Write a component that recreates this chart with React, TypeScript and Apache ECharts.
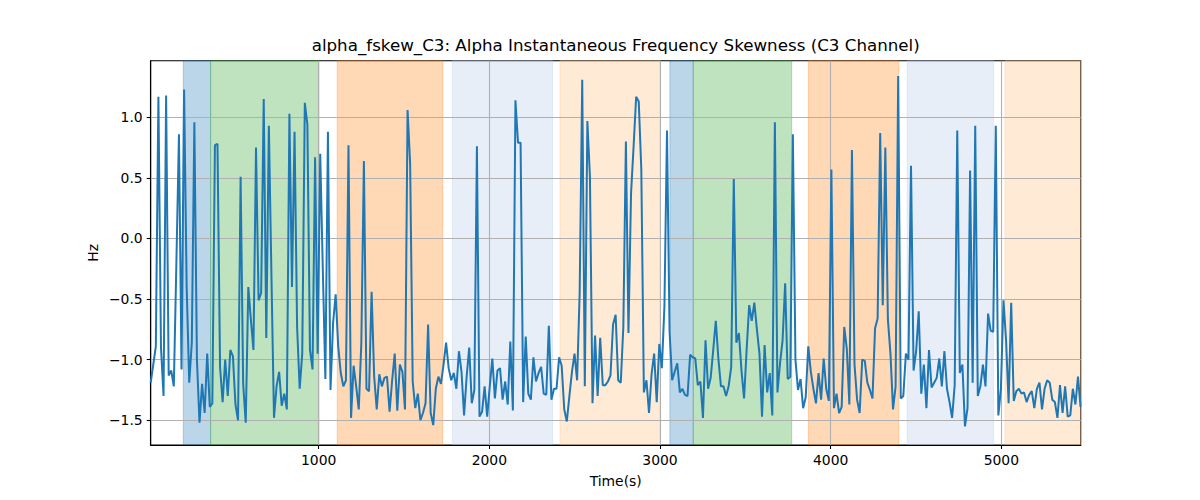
import * as echarts from 'echarts'
import { useEffect, useRef } from 'react'

// sampling of the skewness series (s)
const T0 = 16
const STEP = 15.05

// alpha frequency skewness, C3 (Hz)
const skewHz = [
  -1.19, -1.04, -0.89, 1.17, -0.9, -1.3, 1.18, -1.13, -1.09, -1.22, -0.2, 0.86, -1.08, 1.23, -0.4, -1.19,
  -0.86, 0.96, -1.0, -1.52, -1.2, -1.44, -0.95, -1.39, -1.36, 0.77, 0.78, -1.06, -1.35, -1.0, -1.3, -0.92,
  -0.97, -1.37, -1.5, 0.51, -1.2, -1.52, -0.4,
  -0.67, -0.92, 0.75, -0.51, -0.45, 1.15, -0.82, 0.93, -0.3, -1.48, -1.22, -1.1, -1.38, -1.28, -1.41, 1.03,
  -0.4, 0.88, -0.73, -1.24, -0.95, 1.12, 0.94, -0.92, -1.08, 0.67, -0.95, 0.7, -0.25, -1.16, 0.88, -1.25,
  -0.7, -0.46, -0.89, -1.11, -1.22, -1.17, 0.77, -1.48,
  -1.05, -1.22, -1.41, -0.86, 0.64, -1.24, -1.26, -0.44, -1.14, -1.41, -1.12, -1.22, -1.15, -1.14, -1.43, -1.17,
  -0.95, -1.42, -1.04, -1.1, -1.41, 1.06, 0.62, -1.18, -1.4, -1.28, -1.5, -1.44, -1.36, -0.71, -1.44, -1.54,
  -1.24, -1.14, -1.2, -1.04, -0.86, -1.07, -1.17, -1.11,
  -1.24, -0.93, -1.1, -1.46, -1.14, -0.9, -1.36, -1.25, 0.76, -1.47, -1.43, -1.22, -1.47, -1.22, -0.99, -1.32,
  -1.09, -1.07, -1.33, -1.18, -1.37, -0.85, -1.42, 1.14, 0.79, 0.79, -1.35, -0.81, -1.28, -1.33, -0.98, -1.18,
  -1.11, -1.06, -1.28, -1.29, -0.72, -1.33, -1.24, -1.24,
  -0.98, -1.05, -1.41, -1.51, -1.3, -1.1, -0.95, -1.17, -0.45, 1.31, -1.22, 0.97, 0.51, -1.36, -0.8, -1.3,
  -0.82, -1.21, -1.21, -1.18, -1.13, -0.71, -0.63, -1.17, -1.19, -0.73, 0.8, -0.78, 0.37, 0.76, 1.17, 1.13,
  0.57, -1.27, -1.17, -1.44, -1.12, -0.95, -1.35, -0.87,
  -1.07, -0.56, 0.89, -0.77, -1.17, -1.1, -1.03, -1.27, -1.24, -1.29, -1.3, -0.96, -0.98, -0.99, -1.21, -1.18,
  -1.48, -0.84, -1.24, -1.15, -0.92, -0.68, -0.99, -1.22, -1.22, -1.3, -1.22, -1.06, 0.49, -0.86, -0.78, -1.09,
  -1.32, -0.92, -0.55, -0.68, -0.53, -0.75, -0.95, -1.47,
  -0.88, -1.27, -1.11, -1.46, 0.96, -1.27, -1.03, -0.84, -0.37, -1.16, -1.14, 0.86, -1.0, -1.25, -1.16, -1.4,
  -1.31, -0.89, -1.1, -1.24, -1.36, -1.11, -1.33, -0.99, -1.24, -1.34, 0.57, -1.4, -1.28, -1.44, -1.39, -0.73,
  -0.91, -1.37, 0.73, -1.04, -1.33, -1.44, -1.0,
  -1.01, -1.19, -1.25, -1.32, -0.74, -0.66, 0.87, -0.55, 0.75, -0.67, -0.95, -1.41, -1.22, 1.34, -1.32, -1.3,
  -0.95, -1.0, 0.6, -1.09, -0.93, -0.6, -1.28, -1.04, -1.4, -0.92, -1.23, -1.19, -1.15, -0.99, -1.22, -0.93,
  -1.24, -1.35, -1.48, -1.21, 0.89, -1.11, -1.04, -1.55,
  -1.4, 0.56, -1.19, 0.93, -1.3, -1.22, -1.04, -1.22, -0.62, -0.76, -0.77, 0.93, -1.46, -1.24, -0.51, -0.84,
  -1.36, -0.53, -1.34, -1.26, -1.24, -1.28, -1.27, -1.35, -1.29, -1.26, -1.4, -1.24, -1.19, -1.41, -1.24, -1.17,
  -1.19, -1.33, -1.35, -1.48, -1.21, -1.44, -1.22, -1.47, -1.46, -1.24, -1.37, -1.14, -1.39
]

// shaded stage spans (s)
const spanStart = [207, 367, 1109, 1783, 2414, 3058, 3195, 3869, 4448, 5021]
const spanEnd = [367, 1002, 1727, 2371, 3000, 3195, 3772, 4399, 4955, 5465]
const spanColor = [
  'rgba(31,119,180,0.3)',
  'rgba(44,160,44,0.3)',
  'rgba(255,127,14,0.3)',
  'rgba(174,199,232,0.3)',
  'rgba(255,187,120,0.3)',
  'rgba(31,119,180,0.3)',
  'rgba(44,160,44,0.3)',
  'rgba(255,127,14,0.3)',
  'rgba(174,199,232,0.3)',
  'rgba(255,187,120,0.3)'
]

const xTicks = [1000, 2000, 3000, 4000, 5000]
const yTicks = [-1.5, -1.0, -0.5, 0.0, 0.5, 1.0]
const xRange = [16, 5465]
const yRange = [-1.704, 1.467]

const FONT = 'DejaVu Sans'
const minus = (s: string) => s.replace('-', '\u2212')

export default function App() {
  const chartRef = useRef<HTMLDivElement>(null)

  useEffect(() => {
    if (!chartRef.current) return
    const chart = echarts.init(chartRef.current, null, { renderer: 'svg' })

    const points = skewHz.map((v, i) => [T0 + i * STEP, v])

    const areas = spanStart.map((s, i) => [
      { xAxis: s, itemStyle: { color: spanColor[i], borderColor: spanColor[i], borderWidth: 1 } },
      { xAxis: spanEnd[i] }
    ])

    const gridLine = { show: true, lineStyle: { color: '#b0b0b0', width: 1.1 } }
    const tick = { show: true, inside: false, length: 4, lineStyle: { color: '#000', width: 1.1 } }

    const option = {
      animation: false,
      grid: {
        left: 150.7,
        right: 119.3,
        top: 60.7,
        bottom: 55,
        show: true,
        borderColor: '#000',
        borderWidth: 1.1,
        backgroundColor: 'transparent'
      },
      xAxis: {
        type: 'value',
        min: xRange[0],
        max: xRange[1],
        z: 1.5,
        axisLine: { show: true, onZero: false, lineStyle: { color: '#000', width: 1.1 } },
        axisTick: { ...tick, customValues: xTicks },
        axisLabel: {
          customValues: xTicks,
          margin: 8,
          color: '#000',
          fontFamily: FONT,
          fontSize: 13.9,
          formatter: (v: number) => String(v)
        },
        splitLine: gridLine
      },
      yAxis: {
        type: 'value',
        min: yRange[0],
        max: yRange[1],
        z: 1.5,
        axisLine: { show: true, onZero: false, lineStyle: { color: '#000', width: 1.1 } },
        axisTick: { ...tick, customValues: yTicks },
        axisLabel: {
          customValues: yTicks,
          margin: 8,
          color: '#000',
          fontFamily: FONT,
          fontSize: 13.9,
          formatter: (v: number) => minus(v.toFixed(1))
        },
        splitLine: gridLine
      },
      graphic: [
        {
          type: 'text',
          x: 615.7,
          y: 53,
          style: {
            text: 'alpha_fskew_C3: Alpha Instantaneous Frequency Skewness (C3 Channel)',
            font: `16.7px "${FONT}"`,
            fill: '#000',
            textAlign: 'center',
            textVerticalAlign: 'bottom'
          }
        },
        {
          type: 'text',
          x: 615.7,
          y: 481,
          style: {
            text: 'Time(s)',
            font: `13.9px "${FONT}"`,
            fill: '#000',
            textAlign: 'center',
            textVerticalAlign: 'middle'
          }
        },
        {
          type: 'text',
          x: 93,
          y: 252.8,
          rotation: Math.PI / 2,
          style: {
            text: 'Hz',
            font: `13.9px "${FONT}"`,
            fill: '#000',
            textAlign: 'center',
            textVerticalAlign: 'middle'
          }
        }
      ],
      series: [
        {
          type: 'line',
          data: [],
          z: 1,
          silent: true,
          markArea: { silent: true, data: areas }
        },
        {
          name: 'alpha_fskew_C3',
          type: 'line',
          data: points,
          z: 2,
          symbol: 'none',
          showSymbol: false,
          lineStyle: { color: '#1f77b4', width: 2 },
          itemStyle: { color: '#1f77b4' }
        }
      ]
    }

    chart.setOption(option)
    return () => chart.dispose()
  }, [])

  return (
    <div
      ref={chartRef}
      style={{ position: 'absolute', left: 0, top: 0, width: '1200px', height: '500px', background: '#fff' }}
    />
  )
}
